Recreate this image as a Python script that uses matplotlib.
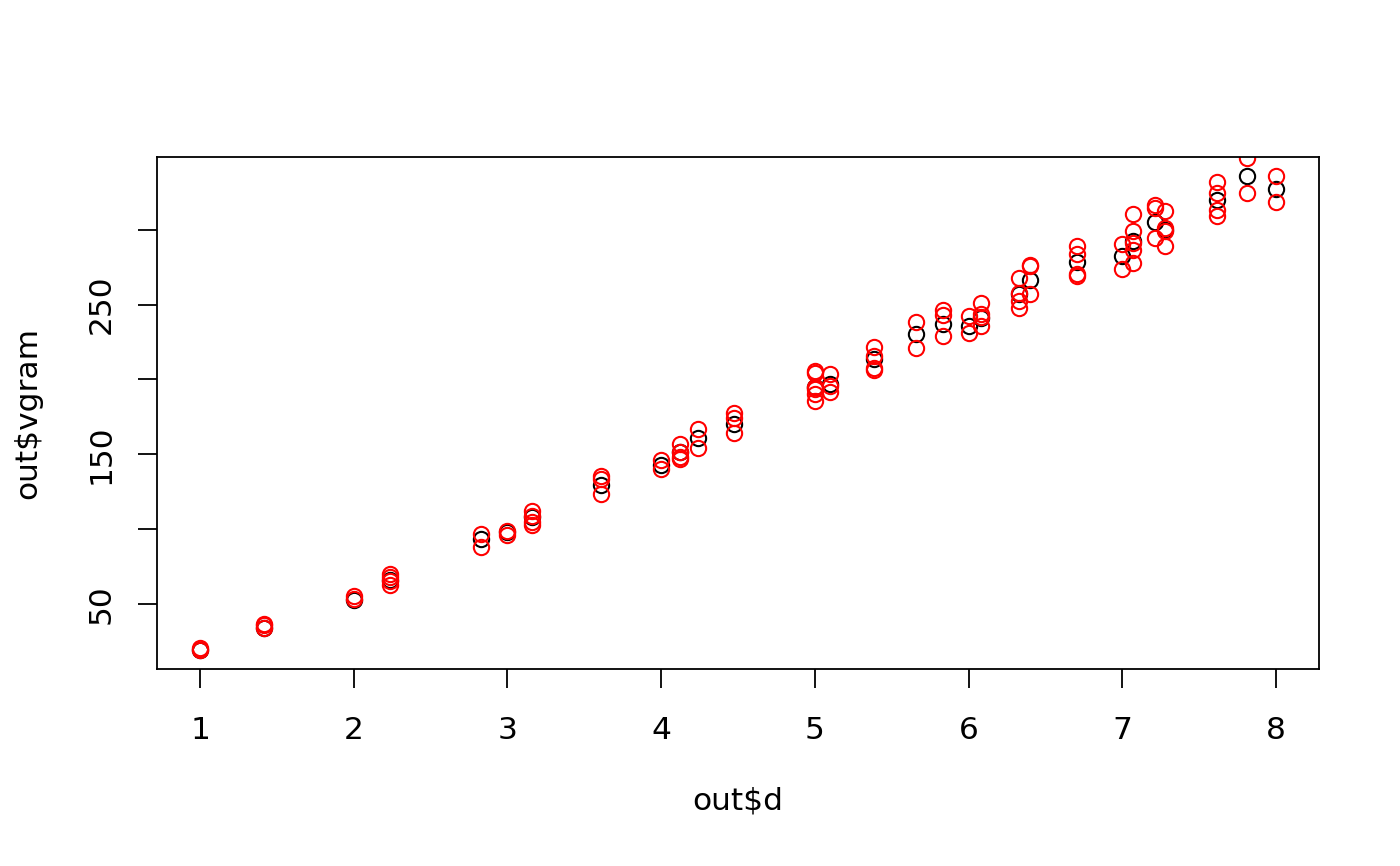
import matplotlib
matplotlib.use("Agg")
import matplotlib.pyplot as plt
import numpy as np

# lag distances and the mean semivariogram (black circles)
dists = [1, 1.414, 2, 2.236, 2.828, 3, 3.162, 3.606, 4, 4.123, 4.243, 4.472,
         5, 5.099, 5.385, 5.657, 5.831, 6, 6.083, 6.325, 6.403, 6.708,
         7, 7.071, 7.211, 7.280, 7.616, 7.810, 8]
vgram = [19, 33.5, 52.5, 65.5, 93, 97.8, 107.8, 129.3, 142.9, 151.1, 161.1, 170,
         195, 196.7, 213.3, 230, 237.3, 236, 241, 257.3, 266.7, 278.2,
         282.2, 292.2, 304.9, 300, 320, 336, 327.1]

# individual semivariogram values per lag (red circles)
red_vals = [
    [20.3, 19],
    [36.7, 35.5, 34],
    [55.1, 53.3],
    [70, 67.8, 65.1, 62.2],
    [96.7, 87.8],
    [98.9, 95.6],
    [112.2, 108.9, 104.9, 102.7],
    [135.1, 133.3, 123.3],
    [146, 140],
    [156.7, 151.1, 148.4, 146.7],
    [167.1, 153.8],
    [177.3, 174, 163.8],
    [205.5, 204.4, 195.1, 193.3, 190, 185.5],
    [203.3, 195.6, 191.6],
    [221.8, 215.6, 207.8, 206],
    [238.4, 221.1],
    [246.7, 243.3, 228.9],
    [242.2, 231.1],
    [251, 244, 242, 235.6],
    [268, 258, 252.2, 248],
    [276.7, 275.6, 257.3],
    [289.3, 284, 270.7, 268.9],
    [290.7, 274],
    [310.7, 298.9, 291.1, 286.7, 277.8],
    [316.7, 314.7, 294.7],
    [312.7, 301.3, 299.5, 289.3],
    [332.2, 324.9, 313.3, 308.9],
    [347.8, 324.4],
    [336, 318.4],
]

xticks = [1, 2, 3, 4, 5, 6, 7, 8]
yticks = [50, 100, 150, 200, 250, 300]
ylabels = ["50", "", "150", "", "250", ""]

red_d = np.concatenate([[d] * len(v) for d, v in zip(dists, red_vals)])
red_v = np.concatenate(red_vals)

fig = plt.figure(figsize=(14, 8.66), dpi=100)
ax = fig.add_axes([157 / 1400, 1 - 669 / 866, (1319 - 157) / 1400, (669 - 157) / 866])

ax.plot(dists, vgram, 'o', mfc='none', mec='black', ms=11, mew=1.5)
ax.plot(red_d, red_v, 'o', mfc='none', mec='red', ms=11, mew=1.5)

# R style 4% padding from the base (black) data
xlo, xhi = min(dists), max(dists)
ylo, yhi = min(vgram), max(vgram)
ax.set_xlim(xlo - 0.04 * (xhi - xlo), xhi + 0.04 * (xhi - xlo))
ax.set_ylim(ylo - 0.04 * (yhi - ylo), yhi + 0.04 * (yhi - ylo))

ax.set_xticks(xticks)
ax.set_xticklabels([str(t) for t in xticks])
ax.set_yticks(yticks)
ax.set_yticklabels(ylabels, rotation=90, va='center')

ax.tick_params(axis='both', direction='out', length=14, width=1.3, labelsize=22.5)
ax.tick_params(axis='x', pad=20)
ax.tick_params(axis='y', pad=16)
for s in ax.spines.values():
    s.set_linewidth(1.3)

ax.set_xlabel("out$d", fontsize=22.5, labelpad=30)
ax.set_ylabel("out$vgram", fontsize=22.5, labelpad=32)

fig.savefig("out.png", dpi=100)
